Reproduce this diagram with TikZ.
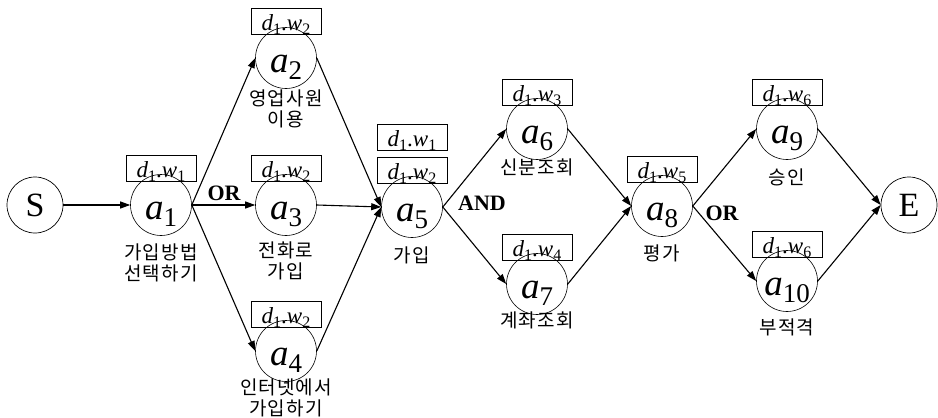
\documentclass[tikz,border=0pt]{standalone}
\usepackage{fontspec}
\setmainfont{Liberation Serif}
\newfontfamily\krfont[LetterSpace=6]{Noto Sans CJK KR}
\usetikzlibrary{arrows.meta}
\newcommand\actlab[1]{{\fontsize{37}{37}\selectfont\itshape a}\raisebox{-7pt}{\fontsize{27}{27}\selectfont #1}}
\newcommand\dwlab[1]{{\fontsize{23}{23}\selectfont\itshape d}\raisebox{-4pt}{\fontsize{16}{16}\selectfont 1}{\fontsize{23}{23}\selectfont .\itshape w}\raisebox{-4pt}{\fontsize{16}{16}\selectfont #1}}
\tikzset{
  actnode/.style={circle, draw, line width=0.6pt, minimum size=61pt, inner sep=0pt},
  termnode/.style={circle, draw, line width=0.7pt, minimum size=56pt, inner sep=0pt, font=\fontsize{34}{34}\selectfont},
  actname/.style={anchor=base, inner sep=0pt},
  wbox/.style={draw, line width=0.6pt, minimum width=70pt, inner sep=0pt, text height=22pt, text depth=4pt},
  krlab/.style={anchor=base, inner sep=0pt, align=center, font=\krfont\fontsize{19}{21}\selectfont},
  flow/.style={-{Triangle[length=10pt,width=7pt]}, line width=1.1pt},
  gate/.style={inner sep=0pt, font=\bfseries\fontsize{22}{22}\selectfont}
}
\begin{document}
\begin{tikzpicture}[x=1pt,y=-1pt]
\useasboundingbox (0,0) rectangle (938,418);
% terminals
\node[termnode] (S) at (35,205) {S};
\node[termnode] (E) at (909,205) {E};
% activity circles
\node[actnode] (a1) at (161,205) {};
\node[actnode] (a2) at (286,58) {};
\node[actnode] (a3) at (286,205) {};
\node[actnode] (a4) at (286,351) {};
\node[actnode] (a5) at (412,207) {};
\node[actnode] (a6) at (537,129) {};
\node[actnode] (a7) at (537,284) {};
\node[actnode] (a8) at (662,206) {};
\node[actnode] (a9) at (787,129) {};
\node[actnode] (a10) at (787,281) {};
% activity names
\foreach \n in {1,...,10}{
  \node[actname] (a\n t) at ([yshift=-14pt]a\n.center) {\actlab{\n}};
}
% weight boxes
\node[wbox] (b1) at ([yshift=6pt]a1.north) {\dwlab{1}};
\node[wbox] (b2) at ([yshift=6pt]a2.north) {\dwlab{2}};
\node[wbox] (b3) at ([yshift=6pt]a3.north) {\dwlab{2}};
\node[wbox] (b4) at ([yshift=6pt]a4.north) {\dwlab{2}};
\node[wbox] (b5b) at ([yshift=6pt]a5.north) {\dwlab{2}};
\node[wbox] (b5a) at ([yshift=33pt]b5b.center) {\dwlab{1}};
\node[wbox] (b6) at ([yshift=6pt]a6.north) {\dwlab{3}};
\node[wbox] (b7) at ([yshift=6pt]a7.north) {\dwlab{4}};
\node[wbox] (b8) at ([yshift=6pt]a8.north) {\dwlab{5}};
\node[wbox] (b9) at ([yshift=6pt]a9.north) {\dwlab{6}};
\node[wbox] (b10) at ([yshift=6pt]a10.north) {\dwlab{6}};
% Korean labels (two-line labels: base = last line)
\node[krlab] (l1) at (161,280) {가입방법\\선택하기};
\node[krlab] (l2) at (286,126) {영업사원\\이용};
\node[krlab] (l3) at (286,278) {전화로\\가입};
\node[krlab] (l4) at (286,415) {인터넷에서\\가입하기};
\node[krlab] (l5) at (412,262) {가입};
\node[krlab] (l6) at (537,174) {신분조회};
\node[krlab] (l7) at (537,327) {계좌조회};
\node[krlab] (l8) at (662,260) {평가};
\node[krlab] (l9) at (787,184) {승인};
\node[krlab] (l10) at (787,334) {부적격};
% gates
\node[gate] (g1) at (224,193) {OR};
\node[gate] (g2) at (482,203) {AND};
\node[gate] (g3) at (722,213) {OR};
% flows
\draw[flow] (S.east) -- (a1.west);
\draw[flow] (a1.east) -- (a2.west);
\draw[flow] (a1.east) -- (a3.west);
\draw[flow] (a1.east) -- (a4.west);
\draw[flow] (a2.east) -- (a5.west);
\draw[flow] (a3.east) -- (a5.west);
\draw[flow] (a4.east) -- (a5.west);
\draw[flow] (a5.east) -- (a6.west);
\draw[flow] (a5.east) -- (a7.west);
\draw[flow] (a6.east) -- (a8.west);
\draw[flow] (a7.east) -- (a8.west);
\draw[flow] (a8.east) -- (a9.west);
\draw[flow] (a8.east) -- (a10.west);
\draw[flow] (a9.east) -- (E.west);
\draw[flow] (a10.east) -- (E.west);
\end{tikzpicture}
\end{document}
